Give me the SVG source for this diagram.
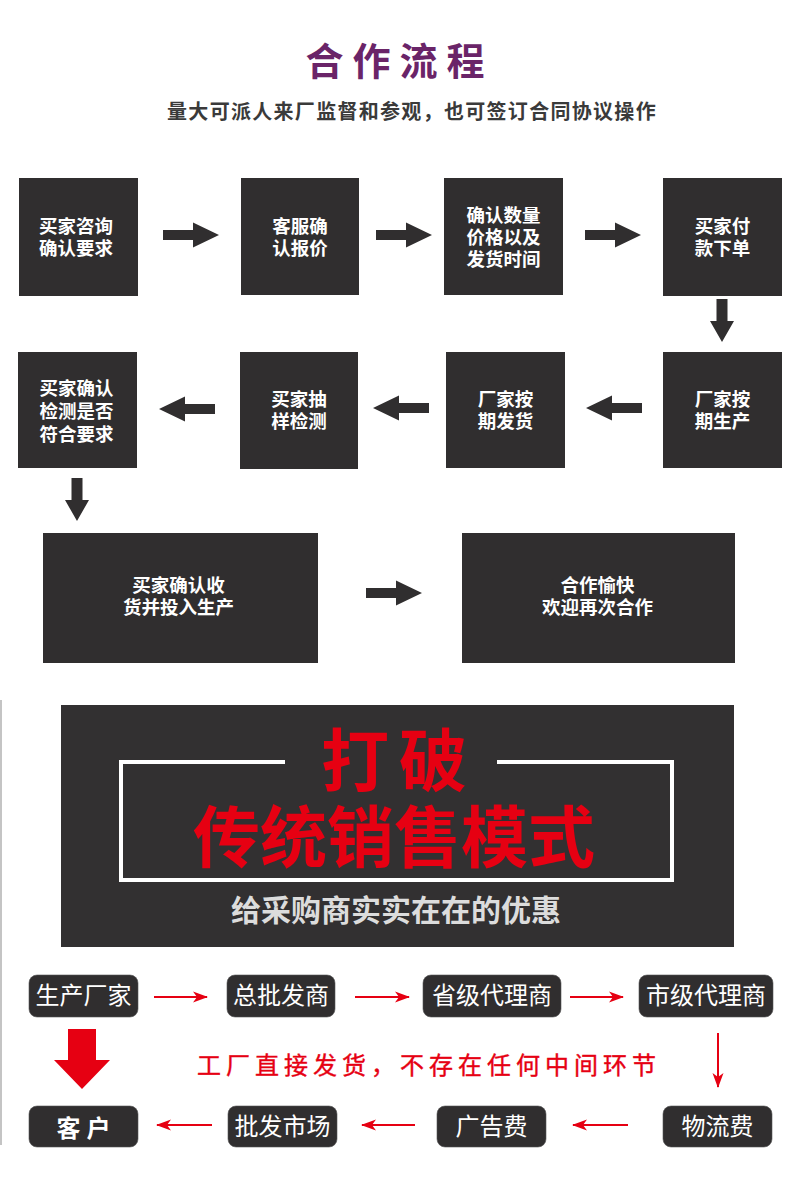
<svg xmlns="http://www.w3.org/2000/svg" xmlns:xlink="http://www.w3.org/1999/xlink" width="800" height="1186" viewBox="0 0 800 1186">
<style>
.cjk{font-family:"Liberation Sans","Noto Sans CJK SC","Noto Sans CJK TC",sans-serif}
.box{fill:#302e2f}
.bt{fill:#ffffff;font-size:18.5px;font-weight:bold;text-anchor:middle}
.ar{fill:#302e2f}
.rb{fill:#302e2f;stroke:#555;stroke-width:0.6}
.rt{fill:#ffffff;font-size:24px;text-anchor:middle}
.rl{stroke:#e60012;stroke-width:2;fill:none;marker-end:url(#rh)}
</style>
<defs>
<path id="arR" d="M0,-5 L30,-5 L30,-12.5 L56,0 L30,12.5 L30,5 L0,5 Z"/>
<path id="arD" d="M-5.5,0 L5.5,0 L5.5,22 L12,22 L0,43 L-12,22 L-5.5,22 Z"/>
<marker id="rh" markerUnits="userSpaceOnUse" markerWidth="16" markerHeight="12" refX="14" refY="6" orient="auto">
<path d="M0,0.5 L15,6 L0,11.5 L4,6 Z" fill="#e60012"/>
</marker>
</defs>
<rect width="800" height="1186" fill="#ffffff"/>

<g id="title" class="cjk">
<text x="399.5" y="75" font-size="38" font-weight="bold" fill="#6a2468" text-anchor="middle" letter-spacing="9">合作流程</text>
<text x="412" y="119" font-size="20" font-weight="bold" fill="#3a3a3a" text-anchor="middle" letter-spacing="1.3">量大可派人来厂监督和参观，也可签订合同协议操作</text>
</g>

<g id="connectors">
<use xlink:href="#arR" class="ar" transform="translate(163,235)"/>
<use xlink:href="#arR" class="ar" transform="translate(376,235)"/>
<use xlink:href="#arR" class="ar" transform="translate(585,235)"/>
<use xlink:href="#arD" class="ar" transform="translate(722,299)"/>
<use xlink:href="#arR" class="ar" transform="translate(642,408) scale(-1,1)"/>
<use xlink:href="#arR" class="ar" transform="translate(429,408) scale(-1,1)"/>
<use xlink:href="#arR" class="ar" transform="translate(215,409) scale(-1,1)"/>
<use xlink:href="#arD" class="ar" transform="translate(77,478)"/>
<use xlink:href="#arR" class="ar" transform="translate(366,593)"/>
<line class="rl" x1="154" y1="997" x2="207" y2="997"/>
<line class="rl" x1="355" y1="997" x2="409" y2="997"/>
<line class="rl" x1="570" y1="997" x2="623" y2="997"/>
<line class="rl" x1="718" y1="1033" x2="718" y2="1087"/>
<line class="rl" x1="628" y1="1125" x2="573" y2="1125"/>
<line class="rl" x1="415" y1="1125" x2="362" y2="1125"/>
<line class="rl" x1="212" y1="1125" x2="157" y2="1125"/>
<path d="M68,1029 L96,1029 L96,1060 L110,1060 L82,1089 L54,1060 L68,1060 Z" fill="#e60012"/>
</g>

<g id="n1" class="cjk"><rect class="box" x="19" y="178" width="119" height="118"/><text class="bt" x="76" y="233">买家咨询</text><text class="bt" x="76" y="255">确认要求</text></g>
<g id="n2" class="cjk"><rect class="box" x="241" y="178" width="118" height="117"/><text class="bt" x="300" y="233">客服确</text><text class="bt" x="300" y="255">认报价</text></g>
<g id="n3" class="cjk"><rect class="box" x="444" y="178" width="119" height="117"/><text class="bt" x="503.5" y="221.5">确认数量</text><text class="bt" x="503.5" y="243.5">价格以及</text><text class="bt" x="503.5" y="265.5">发货时间</text></g>
<g id="n4" class="cjk"><rect class="box" x="663" y="178" width="119" height="118"/><text class="bt" x="722.5" y="233">买家付</text><text class="bt" x="722.5" y="255">款下单</text></g>
<g id="n5" class="cjk"><rect class="box" x="18" y="352" width="119" height="116"/><text class="bt" x="76.5" y="395">买家确认</text><text class="bt" x="76.5" y="418">检测是否</text><text class="bt" x="76.5" y="441">符合要求</text></g>
<g id="n6" class="cjk"><rect class="box" x="240" y="352" width="118" height="117"/><text class="bt" x="299" y="406">买家抽</text><text class="bt" x="299" y="428">样检测</text></g>
<g id="n7" class="cjk"><rect class="box" x="446" y="352" width="119" height="116"/><text class="bt" x="505.5" y="406">厂家按</text><text class="bt" x="505.5" y="428">期发货</text></g>
<g id="n8" class="cjk"><rect class="box" x="663" y="352" width="119" height="116"/><text class="bt" x="722.5" y="406">厂家按</text><text class="bt" x="722.5" y="428">期生产</text></g>
<g id="n9" class="cjk"><rect class="box" x="43" y="533" width="275" height="130"/><text class="bt" x="178.5" y="592">买家确认收</text><text class="bt" x="178.5" y="614">货并投入生产</text></g>
<g id="n10" class="cjk"><rect class="box" x="462" y="533" width="273" height="130"/><text class="bt" x="597.5" y="592">合作愉快</text><text class="bt" x="597.5" y="614">欢迎再次合作</text></g>

<g id="banner" class="cjk">
<rect x="61" y="705" width="673" height="242" fill="#323031"/>
<path d="M285,762 L121,762 L121,880 L672,880 L672,762 L497,762" fill="none" stroke="#ffffff" stroke-width="4"/>
<text x="399" y="786" font-size="68" font-weight="bold" fill="#e60012" text-anchor="middle" letter-spacing="10">打破</text>
<text x="394" y="862" font-size="67" font-weight="bold" fill="#e60012" text-anchor="middle">传统销售模式</text>
<text x="396" y="921" font-size="30" font-weight="bold" fill="#dcdcdc" text-anchor="middle">给采购商实实在在的优惠</text>
</g>

<line x1="1" y1="700" x2="1" y2="1145" stroke="#c4c4c4" stroke-width="2"/>

<g id="m1" class="cjk"><rect class="rb" x="29" y="975" width="109" height="42" rx="8"/><text class="rt" x="83.5" y="1004">生产厂家</text></g>
<g id="m2" class="cjk"><rect class="rb" x="227" y="975" width="108" height="42" rx="8"/><text class="rt" x="281" y="1004">总批发商</text></g>
<g id="m3" class="cjk"><rect class="rb" x="423" y="975" width="138" height="42" rx="8"/><text class="rt" x="492" y="1004">省级代理商</text></g>
<g id="m4" class="cjk"><rect class="rb" x="639" y="975" width="134" height="42" rx="8"/><text class="rt" x="706" y="1004">市级代理商</text></g>
<g id="m5" class="cjk"><rect class="rb" x="29" y="1106" width="109" height="41" rx="8"/><text class="rt" x="86.5" y="1137" font-size="28" font-weight="bold" letter-spacing="6">客户</text></g>
<g id="m6" class="cjk"><rect class="rb" x="228" y="1106" width="109" height="41" rx="8"/><text class="rt" x="282.5" y="1135">批发市场</text></g>
<g id="m7" class="cjk"><rect class="rb" x="437" y="1106" width="109" height="41" rx="8"/><text class="rt" x="491.5" y="1135">广告费</text></g>
<g id="m8" class="cjk"><rect class="rb" x="663" y="1106" width="109" height="41" rx="8"/><text class="rt" x="717.5" y="1135">物流费</text></g>

<g id="note" class="cjk">
<text x="197" y="1074" font-size="24" fill="#e60012" stroke="#e60012" stroke-width="0.4" letter-spacing="5">工厂直接发货，不存在任何中间环节</text>
</g>
</svg>
